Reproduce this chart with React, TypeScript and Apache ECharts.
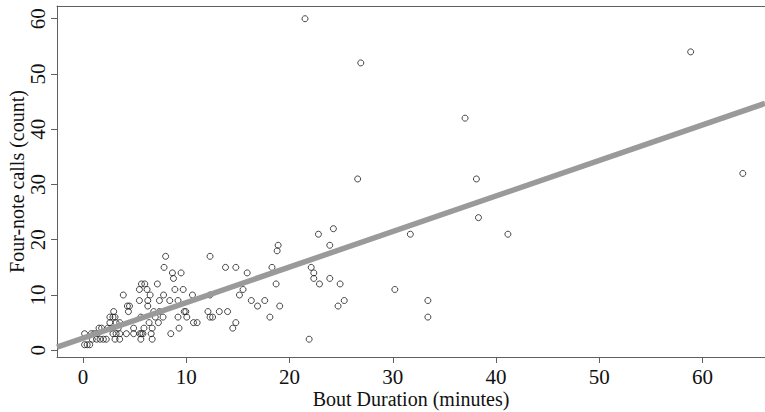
import React, { useEffect, useRef } from "react";
import * as echarts from "echarts";

// Bout duration (minutes) and four-note call counts
const boutMinutes: number[] = [
  0.15, 0.4, 0.65,
  0.9, 1.3, 1.65, 1.97, 2.25, 3.1, 3.55, 5.6, 6.7, 21.9,
  0.15, 0.8, 1.07, 1.36, 2.9, 3.2, 3.56, 4.2, 4.9, 5.5, 5.65, 5.8, 6.6, 8.5,
  1.55, 1.8, 2.4, 2.75, 3.4, 4.9, 5.9, 6.7, 9.3, 14.5,
  2.6, 3.2, 3.56, 6.4, 7.3, 10.7, 11.05, 14.8,
  2.6, 2.9, 3.1, 5.6, 7.0, 7.75, 9.2, 10.05, 12.3, 12.55, 18.1, 33.4,
  2.97, 4.4, 6.85, 7.4, 9.8, 9.95, 12.1, 13.2, 14.0,
  4.3, 4.5, 6.27, 16.9, 19.05, 24.7,
  5.46, 6.27, 7.4, 8.4, 9.2, 16.3, 17.6, 25.3, 33.4,
  3.9, 6.5, 7.8, 10.6, 12.3, 15.15,
  5.46, 6.2, 8.9, 9.7, 15.5, 30.2,
  5.66, 5.98, 7.2, 18.7, 22.9, 24.9,
  8.76, 22.35, 23.9,
  8.66, 9.5, 15.9, 22.35,
  7.85, 13.8, 14.8, 18.3, 22.1,
  8.0, 12.3,
  18.8,
  18.9, 23.9,
  22.8, 31.7, 41.15,
  24.25,
  38.3,
  26.6, 38.1,
  63.9,
  37.0,
  26.9,
  58.85,
  21.5,
];

const fourNoteCalls: number[] = [
  1, 1, 1,
  2, 2, 2, 2, 2, 2, 2, 2, 2, 2,
  3, 3, 3, 3, 3, 3, 3, 3, 3, 3, 3, 3, 3, 3,
  4, 4, 4, 4, 4, 4, 4, 4, 4, 4,
  5, 5, 5, 5, 5, 5, 5, 5,
  6, 6, 6, 6, 6, 6, 6, 6, 6, 6, 6, 6,
  7, 7, 7, 7, 7, 7, 7, 7, 7,
  8, 8, 8, 8, 8, 8,
  9, 9, 9, 9, 9, 9, 9, 9, 9,
  10, 10, 10, 10, 10, 10,
  11, 11, 11, 11, 11, 11,
  12, 12, 12, 12, 12, 12,
  13, 13, 13,
  14, 14, 14, 14,
  15, 15, 15, 15, 15,
  17, 17,
  18,
  19, 19,
  21, 21, 21,
  22,
  24,
  31, 31,
  32,
  42,
  52,
  54,
  60,
];

// Fitted line
const fitIntercept = 2.2;
const fitSlope = 0.643;

const xTicks: number[] = [0, 10, 20, 30, 40, 50, 60];
const yTicks: number[] = [0, 10, 20, 30, 40, 50, 60];

const X_MIN = -2.52;
const X_MAX = 66.05;
const Y_MIN = -1.22;
const Y_MAX = 62.3;

const FONT = "Liberation Serif";

export default function App() {
  const ref = useRef<HTMLDivElement>(null);

  useEffect(() => {
    if (!ref.current) return;
    const chart = echarts.init(ref.current, undefined, { renderer: "svg" });
    const points = boutMinutes.map((x, i) => [x, fourNoteCalls[i]]);
    const fit = [X_MIN, X_MAX].map((x) => [x, fitIntercept + fitSlope * x]);
    const axisLineStyle = { color: "#606060", width: 1 };

    chart.setOption({
      animation: false,
      backgroundColor: "#ffffff",
      grid: {
        left: 57,
        top: 6,
        right: 0,
        bottom: 55,
        containLabel: false,
        outerBoundsMode: "none",
      },
      xAxis: [
        {
          type: "value",
          min: X_MIN,
          max: X_MAX,
          position: "bottom",
          name: "Bout Duration (minutes)",
          nameLocation: "middle",
          nameGap: 32,
          nameMoveOverlap: false,
          nameTextStyle: { fontFamily: FONT, fontSize: 20, color: "#111" },
          axisLine: { show: true, onZero: false, lineStyle: axisLineStyle },
          axisTick: { show: true, length: 6, customValues: xTicks, lineStyle: axisLineStyle },
          axisLabel: {
            customValues: xTicks,
            fontFamily: FONT,
            fontSize: 21,
            color: "#111",
            margin: 9,
          },
          splitLine: { show: false },
        },
        {
          type: "value",
          min: X_MIN,
          max: X_MAX,
          position: "top",
          axisLine: { show: true, onZero: false, lineStyle: axisLineStyle },
          axisTick: { show: false },
          axisLabel: { show: false },
          splitLine: { show: false },
        },
      ],
      yAxis: {
        type: "value",
        min: Y_MIN,
        max: Y_MAX,
        name: "Four-note calls (count)",
        nameLocation: "middle",
        nameRotate: 90,
        nameGap: 30,
        nameMoveOverlap: false,
        nameTextStyle: { fontFamily: FONT, fontSize: 20, color: "#111" },
        axisLine: { show: true, onZero: false, lineStyle: axisLineStyle },
        axisTick: { show: true, length: 6, customValues: yTicks, lineStyle: axisLineStyle },
        axisLabel: {
          customValues: yTicks,
          rotate: 90,
          fontFamily: FONT,
          fontSize: 21,
          color: "#111",
          margin: 9,
        },
        splitLine: { show: false },
      },
      series: [
        {
          type: "scatter",
          data: points,
          symbol: "circle",
          symbolSize: 6,
          itemStyle: { color: "rgba(255,255,255,0)", borderColor: "#1a1a1a", borderWidth: 1 },
          z: 2,
        },
        {
          type: "line",
          data: fit,
          showSymbol: false,
          symbol: "none",
          lineStyle: { color: "#9a9a9a", width: 5.5 },
          z: 3,
        },
      ],
    });
    return () => chart.dispose();
  }, []);

  return (
    <div
      ref={ref}
      style={{ position: "fixed", left: 0, top: 0, width: 765, height: 412, background: "#fff" }}
    />
  );
}
